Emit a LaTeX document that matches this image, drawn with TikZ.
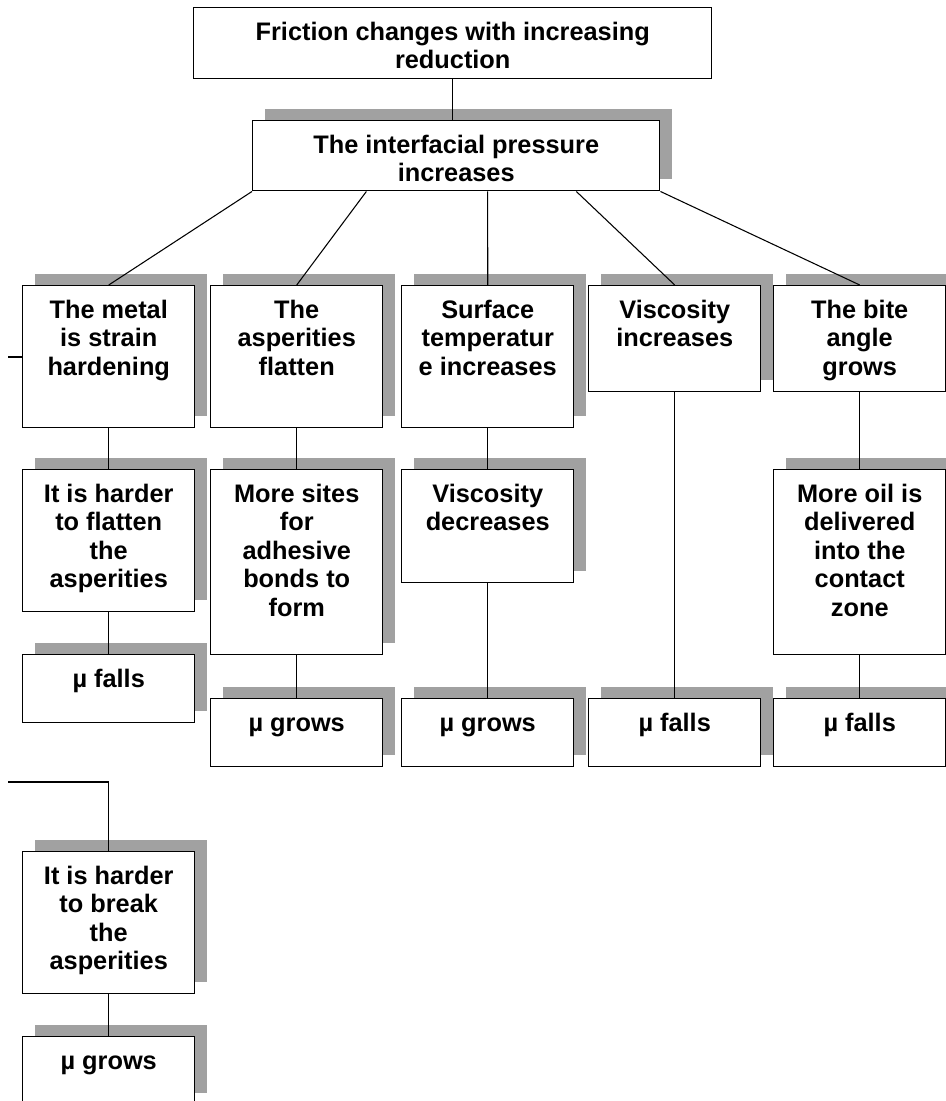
\documentclass[tikz,border=0pt]{standalone}
\usepackage{fontspec}
\setmainfont{Liberation Sans}
\usetikzlibrary{calc,shadows}

% text of a box, set from the top: width, height, lines
\newcommand{\cell}[3]{\parbox[c][#2][t]{#1}{\centering\vspace*{9.5pt}\strut#3}}

\begin{document}
\begin{tikzpicture}[x=0.75pt,y=0.75pt,yscale=-1,xscale=1,
  font=\fontsize{19}{21.4}\selectfont\bfseries,
  box/.style={draw, fill=white, line width=1.1pt, inner sep=0pt, anchor=north west},
  shbox/.style={box, general shadow={fill=black!37, shadow xshift=9pt, shadow yshift=9pt}},
  link/.style={line width=0.8pt}]
\useasboundingbox (0,0) rectangle (946,1101);

% top of the tree
\node[box] (fric) at (193,7) {\cell{388.5pt}{53.25pt}{Friction changes with increasing\\reduction}};
\node[shbox] (press) at (252,120) {\cell{305.25pt}{52.5pt}{The interfacial pressure\\increases}};

% first row
\node[shbox] (metal) at (22,285) {\cell{129pt}{106.5pt}{The metal\\is strain\\hardening}};
\node[shbox] (flat) at (210,285) {\cell{129pt}{106.5pt}{The\\asperities\\flatten}};
\node[shbox] (temp) at (401,285) {\cell{129pt}{106.5pt}{Surface\\temperatur\\e increases}};
\node[shbox] (visc) at (588,285) {\cell{129pt}{79.5pt}{Viscosity\\increases}};
\node[shbox] (bite) at (773,285) {\cell{129pt}{79.5pt}{The bite\\angle\\grows}};

% second row
\node[shbox] (harder) at (22,469) {\cell{129pt}{106.5pt}{It is harder\\to flatten\\the\\asperities}};
\node[shbox] (sites) at (210,469) {\cell{129pt}{138.75pt}{More sites\\for\\adhesive\\bonds to\\form}};
\node[shbox] (vdec) at (401,469) {\cell{129pt}{84.75pt}{Viscosity\\decreases}};
\node[shbox] (oil) at (773,469) {\cell{129pt}{138.75pt}{More oil is\\delivered\\into the\\contact\\zone}};

% results
\node[shbox] (fall1) at (22,654) {\cell{129pt}{51pt}{µ falls}};
\node[shbox] (grow2) at (210,698) {\cell{129pt}{51pt}{µ grows}};
\node[shbox] (grow3) at (401,698) {\cell{129pt}{51pt}{µ grows}};
\node[shbox] (fall4) at (588,698) {\cell{129pt}{51pt}{µ falls}};
\node[shbox] (fall5) at (773,698) {\cell{129pt}{51pt}{µ falls}};

% lower left branch
\node[shbox] (brk) at (22,851) {\cell{129pt}{106.5pt}{It is harder\\to break\\the\\asperities}};
\node[shbox] (grow6) at (22,1036) {\cell{129pt}{51pt}{µ grows}};

% connectors
\draw[link] (fric.south) -- (fric.south |- press.north);
\draw[link] (press.south west) -- (metal.north);
\draw[link] ($(press.south west)!0.28!(press.south east)$) -- (flat.north);
\draw[link] ($(press.south west)!0.577!(press.south east)$) -- (temp.north);
\draw[link] ($(press.south west)!0.794!(press.south east)$) -- (visc.north);
\draw[link] (press.south east) -- (bite.north);

\draw[link] (metal.south) -- (harder.north);
\draw[link] (harder.south) -- (fall1.north);
\draw[link] (flat.south) -- (sites.north);
\draw[link] (sites.south) -- (grow2.north);
\draw[link] (temp.south) -- (vdec.north);
\draw[link] (vdec.south) -- (grow3.north);
\draw[link] (visc.south) -- (fall4.north);
\draw[link] (bite.south) -- (oil.north);
\draw[link] (oil.south) -- (fall5.north);

% branches coming in from the left
\coordinate (inA) at (8,357);
\coordinate (inB) at (8,782);
\draw[link] (inA) -- (inA -| metal.west);
\draw[link] (inB) -| (brk.north);
\draw[link] (brk.south) -- (grow6.north);

\end{tikzpicture}
\end{document}
